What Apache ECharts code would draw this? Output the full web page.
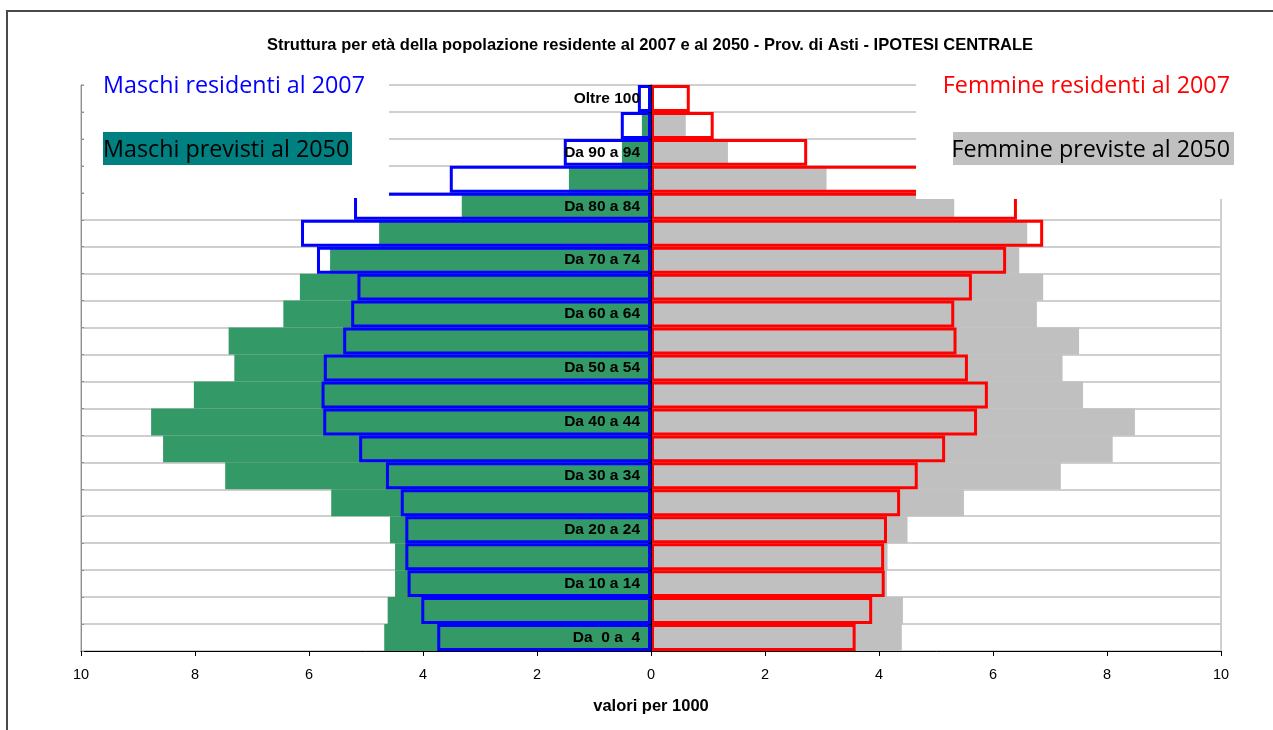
<!DOCTYPE html>
<html>
<head>
<meta charset="utf-8">
<script src="https://cdn.jsdelivr.net/npm/echarts@6/dist/echarts.min.js"></script>
<style>
  html, body { margin: 0; padding: 0; background: #ffffff; }
  #chart { width: 1273px; height: 730px; }
</style>
</head>
<body>
<div id="chart"></div>
<script>
// Age classes, bottom to top
const categories = [
  'Da  0 a  4', 'Da  5 a  9', 'Da 10 a 14', 'Da 15 a 19', 'Da 20 a 24',
  'Da 25 a 29', 'Da 30 a 34', 'Da 35 a 39', 'Da 40 a 44', 'Da 45 a 49',
  'Da 50 a 54', 'Da 55 a 59', 'Da 60 a 64', 'Da 65 a 69', 'Da 70 a 74',
  'Da 75 a 79', 'Da 80 a 84', 'Da 85 a 89', 'Da 90 a 94', 'Da 95 a 99',
  'Oltre 100'
];

// Values per 1000 residents (males drawn to the left, as negatives)
const maschi2050 = [-4.68, -4.62, -4.49, -4.49, -4.58, -5.61, -7.47, -8.56, -8.77, -8.02,
  -7.31, -7.41, -6.45, -6.16, -5.63, -4.77, -3.32, -1.44, -0.51, -0.16, -0.05];
const maschi2007 = [-3.75, -4.03, -4.27, -4.31, -4.31, -4.39, -4.65, -5.12, -5.75, -5.78,
  -5.74, -5.40, -5.26, -5.15, -5.86, -6.14, -5.21, -3.53, -1.53, -0.53, -0.23];
const femmine2050 = [4.40, 4.42, 4.14, 4.15, 4.50, 5.49, 7.19, 8.10, 8.49, 7.58,
  7.22, 7.51, 6.77, 6.88, 6.46, 6.60, 5.32, 3.08, 1.35, 0.61, 0.05];
const femmine2007 = [3.59, 3.88, 4.10, 4.09, 4.14, 4.37, 4.68, 5.16, 5.72, 5.91,
  5.56, 5.36, 5.32, 5.63, 6.23, 6.88, 6.42, 5.00, 2.74, 1.10, 0.68];

const xTicks = { min: -10, max: 10, step: 2 };

const GRID = { left: 81, right: 52, top: 85, bottom: 79 };
const plotWidth = 1273 - GRID.left - GRID.right;
// shift of the label axis from the left edge to the zero line
const zeroShift = -plotWidth * (0 - xTicks.min) / (xTicks.max - xTicks.min);

const chart = echarts.init(document.getElementById('chart'), null, { renderer: 'canvas' });

const barCommon = {
  type: 'bar',
  yAxisIndex: 0,
  barGap: '-100%',
  barCategoryGap: 0,
  animation: false,
  emphasis: { disabled: true }
};

const legendFont = '23.3px "Open Sans", sans-serif';

const option = {
  backgroundColor: '#ffffff',
  animation: false,
  title: {
    text: 'Struttura per età della popolazione residente al 2007 e al 2050 - Prov. di Asti - IPOTESI CENTRALE',
    left: 645,
    top: 32,
    textAlign: 'center',
    textStyle: { fontFamily: 'Liberation Sans, Arial, sans-serif', fontSize: 16.5, fontWeight: 'bold', color: '#000000' }
  },
  grid: {
    left: GRID.left, right: GRID.right, top: GRID.top, bottom: GRID.bottom,
    show: true, borderColor: '#a0a0a0', borderWidth: 1, backgroundColor: 'transparent'
  },
  xAxis: {
    type: 'value',
    min: xTicks.min, max: xTicks.max, interval: xTicks.step,
    name: 'valori per 1000',
    nameLocation: 'middle',
    nameGap: 47,
    nameTextStyle: { fontFamily: 'Liberation Sans, Arial, sans-serif', fontSize: 16.5, fontWeight: 'bold', color: '#000000' },
    axisLine: { show: true, onZero: false, lineStyle: { color: '#000000', width: 1 } },
    axisTick: { show: true, length: 5, lineStyle: { color: '#000000' } },
    axisLabel: {
      margin: 16,
      fontFamily: 'Liberation Sans, Arial, sans-serif', fontSize: 14.5, color: '#000000',
      formatter: v => String(Math.abs(v))
    },
    splitLine: { show: false }
  },
  yAxis: [
    {
      // centre axis: age labels on the zero line, above the bars
      type: 'category',
      data: categories,
      position: 'left',
      offset: zeroShift,
      z: 10,
      axisLine: { show: true, onZero: false, lineStyle: { color: '#000000', width: 1 } },
      axisTick: { show: true, interval: 0, length: 3, lineStyle: { color: '#000000' } },
      axisLabel: {
        interval: 1,
        margin: 11,
        fontFamily: 'Liberation Sans, Arial, sans-serif', fontSize: 15.5, fontWeight: 'bold', color: '#000000'
      },
      splitLine: { show: false }
    },
    {
      // left frame axis with the row grid lines behind the bars
      type: 'category',
      data: categories,
      position: 'left',
      z: 0,
      axisLine: { show: true, onZero: false, lineStyle: { color: '#909090', width: 1 } },
      axisTick: { show: true, interval: 0, inside: true, length: 3, lineStyle: { color: '#909090' } },
      axisLabel: { show: false },
      splitLine: { show: true, interval: 0, lineStyle: { color: '#cfcfcf', width: 2 } }
    }
  ],
  series: [
    Object.assign({}, barCommon, {
      name: 'Maschi previsti al 2050',
      data: maschi2050,
      itemStyle: { color: '#339966' },
      z: 2
    }),
    Object.assign({}, barCommon, {
      name: 'Femmine previste al 2050',
      data: femmine2050,
      itemStyle: { color: '#c0c0c0' },
      z: 2
    }),
    Object.assign({}, barCommon, {
      name: 'Maschi residenti al 2007',
      data: maschi2007,
      itemStyle: { color: 'rgba(0,0,0,0)', borderColor: '#0000ff', borderWidth: 3 },
      z: 3
    }),
    Object.assign({}, barCommon, {
      name: 'Femmine residenti al 2007',
      data: femmine2007,
      itemStyle: { color: 'rgba(0,0,0,0)', borderColor: '#ff0000', borderWidth: 3 },
      z: 4
    })
  ],
  graphic: [
    // outer frame
    { type: 'rect', z: 100, shape: { x: 7, y: 11, width: 1300, height: 800 },
      style: { fill: 'none', stroke: '#4a4a4a', lineWidth: 2 } },
    // legend panels laid over the plot corners
    { type: 'rect', z: 100, shape: { x: 84, y: 62, width: 305, height: 136 },
      style: { fill: '#ffffff' } },
    { type: 'rect', z: 100, shape: { x: 916, y: 62, width: 330, height: 137 },
      style: { fill: '#ffffff' } },
    { type: 'rect', z: 101, shape: { x: 103, y: 132, width: 249, height: 33 },
      style: { fill: '#008080' } },
    { type: 'rect', z: 101, shape: { x: 953, y: 132, width: 281, height: 33 },
      style: { fill: '#c0c0c0' } },
    { type: 'text', z: 102, x: 103, y: 86,
      style: { text: 'Maschi residenti al 2007', fill: '#0000ff', font: legendFont, verticalAlign: 'middle' } },
    { type: 'text', z: 102, x: 103, y: 150,
      style: { text: 'Maschi previsti al 2050', fill: '#000000', font: legendFont, verticalAlign: 'middle' } },
    { type: 'text', z: 102, x: 1230, y: 86,
      style: { text: 'Femmine residenti al 2007', fill: '#ff0000', font: legendFont, align: 'right', verticalAlign: 'middle' } },
    { type: 'text', z: 102, x: 1230, y: 150,
      style: { text: 'Femmine previste al 2050', fill: '#000000', font: legendFont, align: 'right', verticalAlign: 'middle' } }
  ]
};

chart.setOption(option);
</script>
</body>
</html>
